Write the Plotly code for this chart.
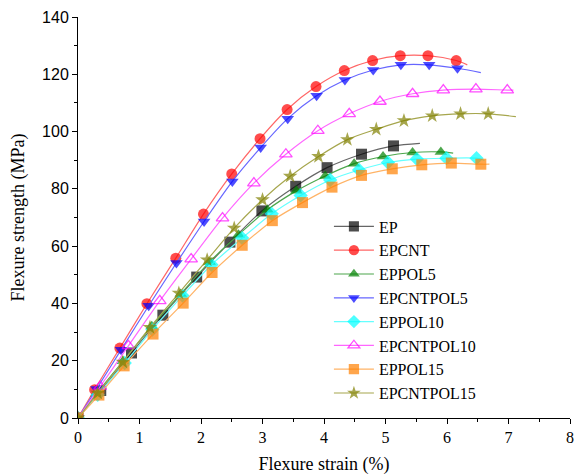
import plotly.graph_objects as go

# flexural stress-strain curves
# each list: marker points, then the final point where the curve ends (no marker)
names = ["EP", "EPCNT", "EPPOL5", "EPCNTPOL5", "EPPOL10", "EPCNTPOL10", "EPPOL15", "EPCNTPOL15"]

ep_x = [0, 0.37, 0.87, 1.38, 1.93, 2.47, 2.99, 3.54, 4.05, 4.61, 5.13, 5.56]
ep_y = [0, 9.6, 22.7, 35.9, 49.2, 61.4, 72.3, 80.9, 87.4, 92.1, 95.0, 95.9]

epcnt_x = [0, 0.27, 0.68, 1.12, 1.59, 2.04, 2.50, 2.96, 3.40, 3.87, 4.33, 4.79, 5.24, 5.69, 6.15, 6.33]
epcnt_y = [0, 9.9, 24.4, 39.9, 55.8, 71.2, 85.2, 97.5, 107.7, 115.7, 121.3, 124.8, 126.5, 126.5, 124.8, 123.3]

eppol5_x = [0, 0.30, 0.73, 1.20, 1.67, 2.14, 2.61, 3.08, 3.55, 4.02, 4.49, 4.96, 5.44, 5.90, 6.10]
eppol5_y = [0, 8.5, 19.8, 32.0, 43.3, 54.5, 64.0, 72.7, 79.3, 84.5, 88.8, 91.3, 92.7, 92.9, 92.5]

epcntpol5_x = [0, 0.30, 0.70, 1.15, 1.60, 2.05, 2.51, 2.97, 3.41, 3.88, 4.34, 4.80, 5.25, 5.71, 6.17, 6.55]
epcntpol5_y = [0, 10.1, 23.8, 39.2, 54.1, 68.6, 82.6, 94.4, 104.5, 112.5, 118.0, 121.5, 123.3, 123.3, 122.1, 120.6]

eppol10_x = [0, 0.32, 0.76, 1.21, 1.70, 2.17, 2.67, 3.15, 3.62, 4.10, 4.57, 5.04, 5.51, 5.99, 6.48, 6.61]
eppol10_y = [0, 8.1, 19.2, 30.9, 42.7, 53.5, 62.8, 71.3, 77.7, 83.1, 86.6, 89.2, 90.4, 90.7, 90.7, 89.9]

epcntpol10_x = [0, 0.36, 0.82, 1.33, 1.84, 2.35, 2.86, 3.38, 3.90, 4.41, 4.91, 5.44, 5.94, 6.47, 6.98, 7.08]
epcntpol10_y = [0, 11.0, 25.2, 40.9, 55.5, 69.8, 82.0, 92.1, 100.3, 106.2, 110.5, 113.2, 114.5, 114.8, 114.5, 114.5]

eppol15_x = [0, 0.34, 0.75, 1.22, 1.71, 2.18, 2.67, 3.16, 3.65, 4.13, 4.61, 5.11, 5.59, 6.07, 6.55, 6.69]
eppol15_y = [0, 8.0, 18.2, 29.3, 40.1, 50.8, 60.3, 68.9, 75.2, 80.6, 84.7, 87.0, 88.4, 89.0, 88.6, 88.6]

epcntpol15_x = [0, 0.32, 0.73, 1.17, 1.64, 2.10, 2.54, 3.00, 3.45, 3.91, 4.38, 4.85, 5.30, 5.76, 6.22, 6.67, 7.12]
epcntpol15_y = [0, 8.7, 19.5, 31.6, 43.6, 55.2, 66.3, 76.2, 84.4, 91.3, 97.2, 100.8, 103.8, 105.5, 106.2, 106.2, 105.2]

xs = [ep_x, epcnt_x, eppol5_x, epcntpol5_x, eppol10_x, epcntpol10_x, eppol15_x, epcntpol15_x]
ys = [ep_y, epcnt_y, eppol5_y, epcntpol5_y, eppol10_y, epcntpol10_y, eppol15_y, epcntpol15_y]

marker_colors = ["#000000", "#ff0000", "#008000", "#0000ff", "#00ffff", "#ff00ff", "#ff8000", "#808000"]
line_colors = ["#666666", "#ff6666", "#4da64d", "#6666ff", "#66ffff", "#ff66ff", "#ffb366", "#a6a64d"]
symbols = ["square", "circle", "triangle-up", "triangle-down", "diamond", "triangle-up-open", "square", "star"]

serif = "Liberation Serif, Times New Roman, serif"
sans = "Liberation Sans, Arial, sans-serif"

fig = go.Figure()
for i, name in enumerate(names):
    n = len(xs[i])
    sizes = [11] * (n - 1) + [0]  # curve continues past the last marker
    fig.add_trace(go.Scatter(
        x=xs[i], y=ys[i], name=name, mode="lines+markers",
        line=dict(color=line_colors[i], width=1.2, shape="spline", smoothing=0.8),
        marker=dict(symbol=symbols[i], size=sizes, color=marker_colors[i],
                    line=dict(width=1.3 if symbols[i].endswith("open") else 0,
                              color=marker_colors[i])),
    ))

fig.update_layout(
    width=576, height=476,
    margin=dict(l=78, r=6, t=17, b=58),
    paper_bgcolor="white", plot_bgcolor="white",
    showlegend=True,
    legend=dict(x=0.51, y=0.52, xanchor="left", yanchor="top",
                font=dict(family=serif, size=16, color="black"),
                bgcolor="rgba(0,0,0,0)", tracegroupgap=0, itemwidth=40),
    xaxis=dict(
        range=[0, 8], dtick=1, tick0=0, automargin=False,
        showline=True, linecolor="black", linewidth=1, mirror=False,
        ticks="outside", ticklen=5, tickcolor="black",
        minor=dict(dtick=0.5, ticks="outside", ticklen=3, tickcolor="black"),
        showgrid=False, zeroline=False,
        tickfont=dict(family=serif, size=16, color="black"),
        title=dict(text="Flexure strain (%)", font=dict(family=serif, size=18, color="black"), standoff=12),
    ),
    yaxis=dict(
        range=[0, 140], dtick=20, tick0=0, automargin=False,
        showline=True, linecolor="black", linewidth=1, mirror=False,
        ticks="outside", ticklen=5, tickcolor="black",
        minor=dict(dtick=10, ticks="outside", ticklen=3, tickcolor="black"),
        showgrid=False, zeroline=False,
        tickfont=dict(family=sans, size=16, color="black"),
        title=dict(text="Flexure strength (MPa)", font=dict(family=serif, size=18, color="black"), standoff=12),
    ),
)

# the page body has a default margin; drop it so the figure fills the window
fig.write_html("out.html", config={"displayModeBar": False},
               post_script="document.body.style.margin='0';")
